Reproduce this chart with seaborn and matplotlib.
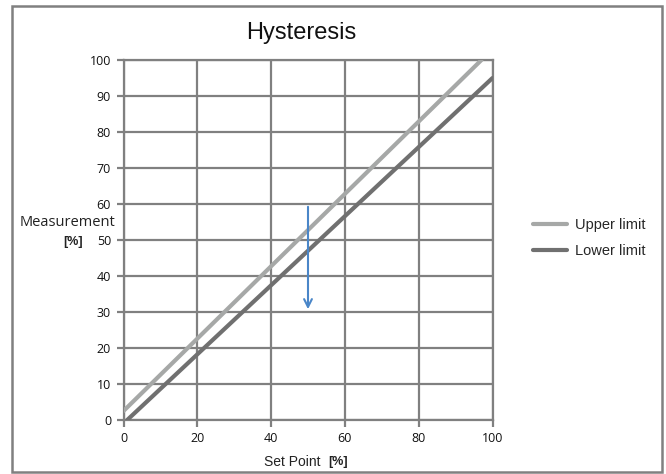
import pandas as pd
import numpy as np
import seaborn as sb
import matplotlib.pyplot as plt
from matplotlib.patches import Rectangle

# values
set_point_upper = [0, 97]
measure_upper = [2.5, 100]
set_point_lower = [1, 100]
measure_lower = [0, 95]
series_names = ['Upper limit', 'Lower limit']
series_colors = ['#a6a8a7', '#707070']
arrow_x = 50
arrow_from = 60
arrow_to = 30
x_ticks = [0, 20, 40, 60, 80, 100]
y_ticks = [0, 10, 20, 30, 40, 50, 60, 70, 80, 90, 100]

Data = pd.DataFrame({
    'Set Point': set_point_upper + set_point_lower,
    'Measurement': measure_upper + measure_lower,
    'Series': [series_names[0]] * 2 + [series_names[1]] * 2,
})

sb.set_style("white")
plt.rcParams['font.family'] = ['Liberation Sans', 'DejaVu Sans']

fig = plt.figure(figsize=(6.66, 4.74), dpi=100)
ax = fig.add_axes([123.5 / 666, 1 - 420 / 474, 369 / 666, 360 / 474])

sb.lineplot(data=Data, x='Set Point', y='Measurement', hue='Series',
            palette=dict(zip(series_names, series_colors)), linewidth=3.0,
            ax=ax, legend=False, zorder=3)

ax.annotate('', xy=(arrow_x, arrow_to), xytext=(arrow_x, arrow_from),
            arrowprops=dict(arrowstyle='->', color='#4a86c8', lw=1.5,
                            mutation_scale=14), zorder=4)

ax.set(xlim=(0, 100), ylim=(0, 100), xlabel='', ylabel='')
ax.set_xticks(x_ticks)
ax.set_yticks(y_ticks)
ax.grid(True, color='#808080', linewidth=1.6)
for s in ax.spines.values():
    s.set_color('#808080')
    s.set_linewidth(1.6)
ax.tick_params(axis='both', direction='out', length=5, width=1.6,
               color='#808080', labelsize=9, labelcolor='#111111', pad=4)
ax.tick_params(axis='y', left=True)
ax.tick_params(axis='x', bottom=True)
for lbl in ax.get_xticklabels() + ax.get_yticklabels():
    lbl.set_family(['Open Sans', 'DejaVu Sans'])

fig.text(301 / 666, 1 - 33 / 474, 'Hysteresis', ha='center', va='center',
         fontsize=17, color='#111111')
fig.text(320 / 666, 1 - 462 / 474, 'Set Point', ha='right', va='center',
         fontsize=10, color='#222222')
fig.text(328 / 666, 1 - 462 / 474, '[%]', ha='left', va='center',
         fontsize=9, fontweight='bold', color='#222222')
fig.text(115 / 666, 1 - 223 / 474, 'Measurement', ha='right', va='center',
         fontsize=10.5, color='#222222', family=['Open Sans', 'DejaVu Sans'])
fig.text(83 / 666, 1 - 242 / 474, '[%]', ha='right', va='center',
         fontsize=9, fontweight='bold', color='#222222')

handles = [plt.Line2D([], [], color=c, linewidth=3.0) for c in series_colors]
fig.legend(handles, series_names, loc='center left',
           bbox_to_anchor=(520 / 666, 1 - 238 / 474), frameon=False,
           fontsize=10.5, handlelength=2.3, handletextpad=0.6,
           labelspacing=0.8)

fig.patches.append(Rectangle((12 / 666, 1 - 472 / 474), 650 / 666, 466 / 474,
                             transform=fig.transFigure, fill=False,
                             edgecolor='#808080', linewidth=1.8))

fig.savefig("out.png", dpi=100)
plt.close(fig='all')
